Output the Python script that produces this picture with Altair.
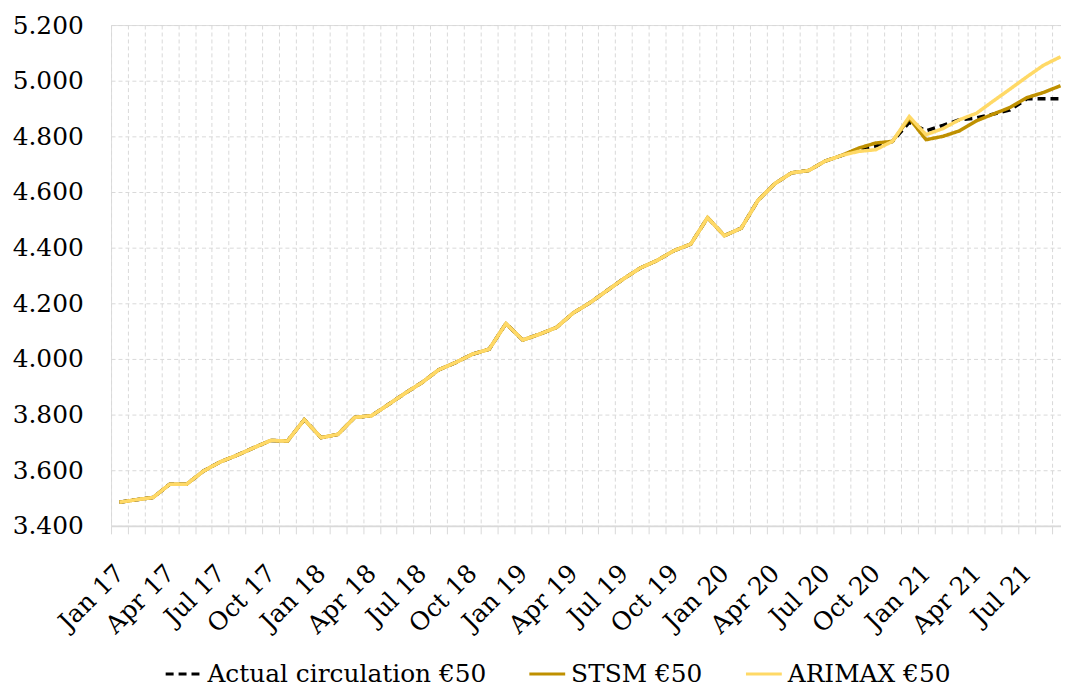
import json
import altair as alt
import pandas as pd

FONT = "DejaVu Serif"

months = [
    "Jan 17", "Feb 17", "Mar 17", "Apr 17", "May 17", "Jun 17", "Jul 17", "Aug 17", "Sep 17", "Oct 17", "Nov 17", "Dec 17",
    "Jan 18", "Feb 18", "Mar 18", "Apr 18", "May 18", "Jun 18", "Jul 18", "Aug 18", "Sep 18", "Oct 18", "Nov 18", "Dec 18",
    "Jan 19", "Feb 19", "Mar 19", "Apr 19", "May 19", "Jun 19", "Jul 19", "Aug 19", "Sep 19", "Oct 19", "Nov 19", "Dec 19",
    "Jan 20", "Feb 20", "Mar 20", "Apr 20", "May 20", "Jun 20", "Jul 20", "Aug 20", "Sep 20", "Oct 20", "Nov 20", "Dec 20",
    "Jan 21", "Feb 21", "Mar 21", "Apr 21", "May 21", "Jun 21", "Jul 21", "Aug 21", "Sep 21",
]

x_labels = ["Jan 17", "Apr 17", "Jul 17", "Oct 17", "Jan 18", "Apr 18", "Jul 18", "Oct 18",
            "Jan 19", "Apr 19", "Jul 19", "Oct 19", "Jan 20", "Apr 20", "Jul 20", "Oct 20",
            "Jan 21", "Apr 21", "Jul 21"]

# common history (Jan 17 - Aug 20), identical for all three series
history = [3485, 3494, 3502, 3550, 3550, 3597, 3630, 3654, 3681, 3707, 3705, 3782,
           3717, 3729, 3790, 3796, 3836, 3877, 3915, 3961, 3987, 4017, 4035, 4127,
           4068, 4089, 4113, 4165, 4202, 4245, 4288, 4327, 4354, 4389, 4413, 4508,
           4443, 4470, 4570, 4630, 4669, 4677, 4711, 4732]

# Sep 20 - Sep 21
actual_tail = [4755, 4765, 4782, 4850, 4820, 4839, 4860, 4866, 4880, 4895, 4935, 4935, 4935]
stsm_tail = [4758, 4776, 4782, 4865, 4788, 4800, 4820, 4856, 4880, 4904, 4939, 4958, 4982]
arimax_tail = [4746, 4752, 4782, 4871, 4806, 4828, 4860, 4883, 4927, 4970, 5014, 5056, 5086]

series_names = ["Actual circulation €50", "STSM €50", "ARIMAX €50"]
series_values = [history + actual_tail, history + stsm_tail, history + arimax_tail]
series_colors = ["#000000", "#BF9000", "#FFD966"]

rows = []
for name, vals in zip(series_names, series_values):
    for i, (m, v) in enumerate(zip(months, vals)):
        rows.append({"idx": i, "month": m, "series": name, "value": v})
df = pd.DataFrame(rows)

n = len(months)
grid_vals = [i - 0.5 for i in range(n)]
label_vals = [i * 3 for i in range(len(x_labels))]
tick_values = sorted(grid_vals + label_vals)

is_grid = "datum.value % 1 != 0"
cond_on = {"condition": {"test": is_grid, "value": 1}, "value": 0}

x_axis = alt.Axis(
    values=tick_values,
    labelExpr="datum.value % 3 == 0 ? " + json.dumps(x_labels) + "[datum.value / 3] : ''",
    labelAngle=-45, labelAlign="right", labelBaseline="middle",
    labelFont=FONT, labelFontSize=25, labelColor="#000000",
    labelOverlap=False, labelBound=False, labelFlush=False, labelPadding=35,
    grid=True, gridColor="#d9d9d9", gridDash=[4, 3], gridWidth=1, gridOpacity=cond_on,
    ticks=True, tickColor="#d9d9d9", tickSize=8, tickWidth=1, tickOpacity=cond_on,
    domain=True, domainColor="#d9d9d9", domainWidth=2,
    title=None,
)

y_axis = alt.Axis(
    values=list(range(3400, 5201, 200)),
    labelExpr="replace(format(datum.value, ','), ',', '.')",
    labelFont=FONT, labelFontSize=25, labelColor="#000000", labelPadding=28,
    grid=True, gridColor="#d9d9d9", gridDash=[4, 3], gridWidth=1,
    ticks=False, domain=False, title=None,
)

legend = alt.Legend(orient="none", direction="horizontal", legendX=53, legendY=633,
                    symbolType="stroke", symbolSize=1300, symbolStrokeWidth=3,
                    labelFont=FONT, labelFontSize=25, labelColor="#000000", labelLimit=0,
                    columnPadding=36, labelOffset=4, title=None)

base = alt.Chart(df).mark_line(strokeWidth=3.5).encode(
    x=alt.X("idx:Q", scale=alt.Scale(domain=[-0.5, n - 1 + 0.03], nice=False, zero=False), axis=x_axis),
    y=alt.Y("value:Q", scale=alt.Scale(domain=[3400, 5200], nice=False, zero=False), axis=y_axis),
    color=alt.Color("series:N", scale=alt.Scale(domain=series_names, range=series_colors),
                    sort=series_names, title=None, legend=legend),
    strokeDash=alt.StrokeDash("series:N", scale=alt.Scale(domain=series_names, range=[[8, 5], [1, 0], [1, 0]]),
                              sort=series_names, title=None, legend=legend),
)

layers = [base.transform_filter(alt.datum.series == s) for s in series_names]

chart = alt.layer(*layers).properties(
    width=956,
    height=504,
    autosize=alt.AutoSizeParams(type="none"),
    padding={"left": 103.7, "top": 15, "right": 0, "bottom": 163},
).configure_view(stroke=None).configure(background="white")

chart.save("out.html", embed_options={"renderer": "svg", "actions": False})
